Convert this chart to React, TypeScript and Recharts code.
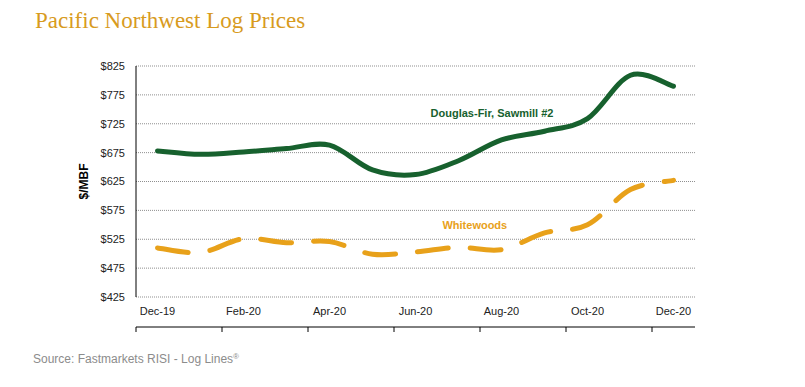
import { CartesianGrid, Line, LineChart, ReferenceDot, XAxis, YAxis } from "recharts";

const months = [
  "Dec-19", "Jan-20", "Feb-20", "Mar-20", "Apr-20", "May-20", "Jun-20",
  "Jul-20", "Aug-20", "Sep-20", "Oct-20", "Nov-20", "Dec-20",
];
const douglasFir = [678, 672, 676, 682, 688, 645, 637, 661, 697, 712, 734, 809, 790];
const whitewoods = [510, 502, 526, 519, 521, 499, 503, 511, 507, 536, 550, 611, 627];
const yTicks = [425, 475, 525, 575, 625, 675, 725, 775, 825];
const labelTicks = [0, 2, 4, 6, 8, 10, 12];
const markTicks = [-0.5, 1.5, 3.5, 5.5, 7.5, 9.5, 11.5];

const data = months.map((m, i) => ({
  idx: i,
  month: m,
  douglasFir: douglasFir[i],
  whitewoods: whitewoods[i],
}));

const GREEN = "#17612e";
const GOLD = "#e8a11a";
const AXIS_FONT = "'Liberation Sans', Arial, sans-serif";

// excel-like smoothed line (catmull-rom bezier)
const smoothCurve = (context: any) => {
  let pts: number[][] = [];
  return {
    areaStart() {},
    areaEnd() {},
    lineStart() {
      pts = [];
    },
    point(x: number, y: number) {
      pts.push([+x, +y]);
    },
    lineEnd() {
      if (!pts.length) return;
      context.moveTo(pts[0][0], pts[0][1]);
      for (let i = 0; i < pts.length - 1; i++) {
        const p0 = pts[i - 1] || pts[i];
        const p1 = pts[i];
        const p2 = pts[i + 1];
        const p3 = pts[i + 2] || p2;
        context.bezierCurveTo(
          p1[0] + (p2[0] - p0[0]) / 6,
          p1[1] + (p2[1] - p0[1]) / 6,
          p2[0] - (p3[0] - p1[0]) / 6,
          p2[1] - (p3[1] - p1[1]) / 6,
          p2[0],
          p2[1]
        );
      }
    },
  };
};

export default function App() {
  return (
    <div style={{ position: "absolute", left: 0, top: 0, width: 805, height: 387, background: "#fff" }}>
      <svg width={805} height={387} style={{ position: "absolute", left: 0, top: 0 }}>
        <text x={35} y={28} fontFamily="'Liberation Serif', 'Times New Roman', serif" fontSize={23} fill="#d89b1e">
          Pacific Northwest Log Prices
        </text>
        <text x={33} y={363} fontFamily={AXIS_FONT} fontSize={12} fill="#8c8c8c">
          Source: Fastmarkets RISI - Log Lines
          <tspan fontSize={8} dy={-4}>®</tspan>
        </text>
      </svg>
      <div style={{ position: "absolute", left: 0, top: 0 }}>
        <LineChart width={805} height={387} data={data} margin={{ top: 66, right: 110, bottom: 59, left: 76 }}>
          <CartesianGrid vertical={false} stroke="#8f8f8f" strokeDasharray="1 1" />
          <XAxis
            xAxisId="marks"
            dataKey="idx"
            type="number"
            domain={[-0.5, 12.5]}
            ticks={markTicks}
            tickFormatter={() => ""}
            tickLine={{ stroke: "#000" }}
            tickSize={5}
            axisLine={{ stroke: "#000" }}
            height={1}
          />
          <XAxis
            dataKey="idx"
            type="number"
            domain={[-0.5, 12.5]}
            ticks={labelTicks}
            tickFormatter={(v) => months[v]}
            tickLine={false}
            tickSize={5}
            tickMargin={5}
            axisLine={false}
            height={30}
            tick={{ fontSize: 11, fill: "#222", fontFamily: AXIS_FONT }}
          />
          <YAxis
            domain={[425, 825]}
            ticks={yTicks}
            tickFormatter={(v) => `$${v}`}
            tickLine={false}
            tickMargin={5}
            axisLine={{ stroke: "#000" }}
            width={60}
            tick={{ fontSize: 11, fill: "#222", fontFamily: AXIS_FONT }}
            label={{
              value: "$/MBF",
              angle: -90,
              position: "insideLeft",
              offset: 8,
              style: { fontSize: 12, fontWeight: "bold", fill: "#000", fontFamily: AXIS_FONT, textAnchor: "middle" },
            }}
          />
          <Line
            xAxisId="marks"
            type={smoothCurve as any}
            dataKey="douglasFir"
            stroke={GREEN}
            strokeWidth={5}
            strokeLinecap="round"
            dot={false}
            activeDot={false}
            isAnimationActive={false}
          />
          <Line
            type={smoothCurve as any}
            dataKey="whitewoods"
            stroke={GOLD}
            strokeWidth={5}
            strokeLinecap="round"
            strokeDasharray="31 22"
            dot={false}
            activeDot={false}
            isAnimationActive={false}
          />
          <ReferenceDot
            x={7.78}
            y={744}
            r={0}
            fill="none"
            stroke="none"
            label={{ value: "Douglas-Fir, Sawmill #2", position: "center", fill: GREEN, fontSize: 11, fontWeight: "bold", fontFamily: AXIS_FONT }}
          />
          <ReferenceDot
            x={7.38}
            y={550}
            r={0}
            fill="none"
            stroke="none"
            label={{ value: "Whitewoods", position: "center", fill: GOLD, fontSize: 11, fontWeight: "bold", fontFamily: AXIS_FONT }}
          />
        </LineChart>
      </div>
    </div>
  );
}
